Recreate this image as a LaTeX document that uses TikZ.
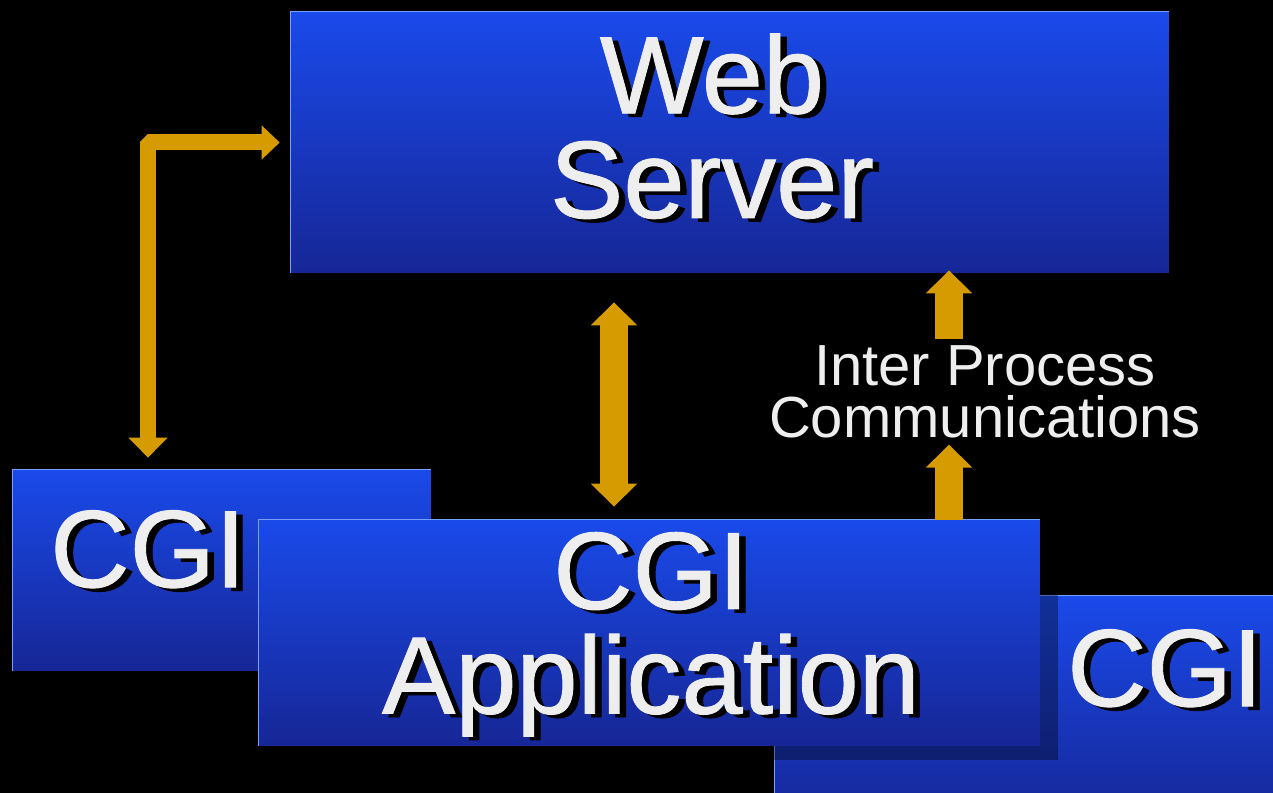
\documentclass[tikz,border=0pt]{standalone}
\usepackage{fontspec}
\setmainfont{Liberation Sans}
\newfontfamily\boxfont[FakeBold=0.8]{Liberation Sans}
\usepackage{tikz}
\usetikzlibrary{calc,arrows.meta,positioning}

\definecolor{boxtop}{RGB}{26,74,234}
\definecolor{boxbot}{RGB}{22,38,150}
\definecolor{boxedge}{RGB}{120,160,255}
\definecolor{arrowgold}{RGB}{214,155,0}
\definecolor{textwhite}{RGB}{238,238,238}

\newcommand{\txtshadow}[1]{\rlap{\hspace{0.13cm}\raisebox{-0.07cm}{\textcolor{black}{#1}}}#1}

\begin{document}
\begin{tikzpicture}[x=0.02cm, y=-0.02cm]
		% Styles
		\tikzset{
			box/.style={top color=boxtop, bottom color=boxbot, draw=none, inner sep=0,
				minimum width=15.62cm, minimum height=4.52cm},
			boxshadow/.style={fill=black, fill opacity=0.35, draw=none, inner sep=0,
				minimum width=15.62cm, minimum height=4.52cm},
			bigtxt/.style={text=textwhite, align=center, inner sep=0,
				font=\boxfont\fontsize{62.6}{59.5}\selectfont},
			smalltxt/.style={text=textwhite, align=center, inner sep=0.12cm,
				font=\fontsize{33}{29.6}\selectfont},
			edge/.style={draw=boxedge, line width=0.5pt},
			flow/.style={draw=arrowgold, line width=0.56cm, line cap=butt,
				-{Triangle[width=0.9cm, length=0.46cm]}},
			biflow/.style={flow, {Triangle[width=0.9cm, length=0.46cm]}-{Triangle[width=0.9cm, length=0.46cm]}},
			thinflow/.style={draw=arrowgold, line width=0.32cm, line join=bevel,
				{Triangle[width=0.76cm, length=0.4cm]}-{Triangle[width=0.66cm, length=0.36cm]}}
		}

		% Background
		\fill[black] (0,0) rectangle (1273,793);
		\clip (0,0) rectangle (1273,793);

		% Draw Web Server
		\node[box, minimum width=17.56cm, minimum height=5.22cm] (web) at (730,142.5) {};
		\draw[edge] (web.south west) |- (web.north east);

		% Draw CGI boxes
		\node[box, minimum width=8.36cm, minimum height=4.02cm] (cgiL) at (222,570.5) {};
		\draw[edge] (cgiL.south west) |- (cgiL.north east);
		\node[box] (cgiR) at (1165.5,709) {};
		\draw[edge] (cgiR.south west) |- (cgiR.north east);

		% Draw CGI Application (with shadow)
		\node[boxshadow] (appshadow) at (667.5,647) {};
		\node[box] (app) at (649.5,633) {};
		\draw[edge] (app.south west) |- (app.north east);

		% Texts
		\node[bigtxt] (webtxt) at (712,128) {\txtshadow{Web}\\\txtshadow{Server}};
		\node[bigtxt] (cgiLtxt) at (148,551) {\txtshadow{CGI}};
		\node[bigtxt] (apptxt) at (651,636) {\txtshadow{CGI}\\\txtshadow{Application}};
		\node[bigtxt] (cgiRtxt) at (1165,670) {\txtshadow{CGI}};
		\node[smalltxt] (ipc) at (985,392) {Inter Process\\Communications};

		% Arrows
		\coordinate (ipcx) at (949,0);
		\draw[thinflow] ([shift={(-74,-12)}]cgiL.north) |- ([shift={(-11,0)}]web.west);
		\draw[biflow] ([shift={(-116,29)}]web.south) -- ([shift={(-35.5,-13)}]app.north);
		\draw[flow] (ipc.north -| ipcx) -- ([shift={(0,-3)}]web.south -| ipcx);
		\draw[flow] (app.north -| ipcx) -- (ipc.south -| ipcx);

\end{tikzpicture}
\end{document}
